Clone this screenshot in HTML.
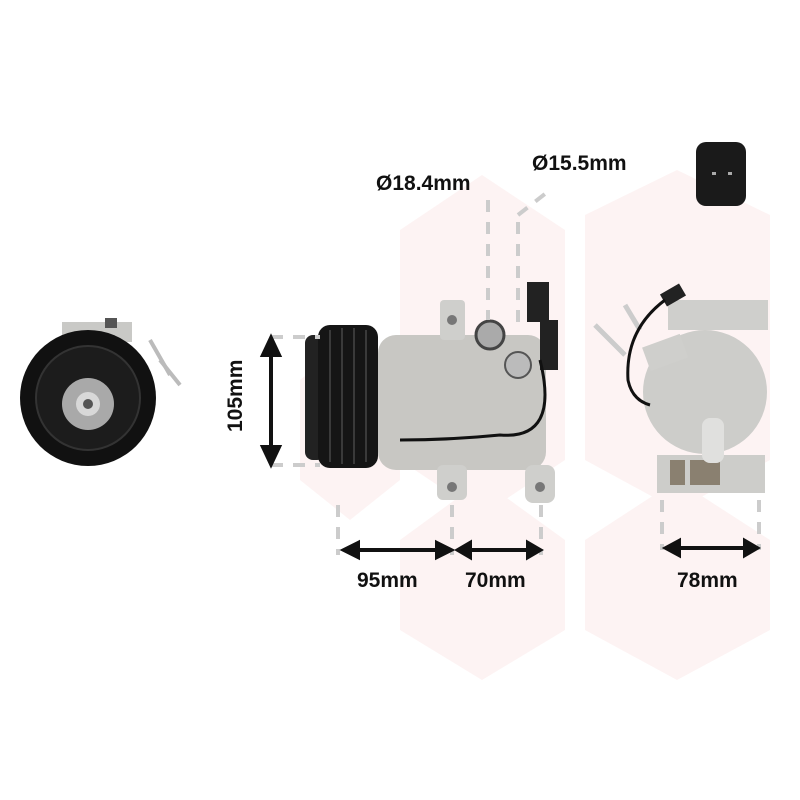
<!DOCTYPE html>
<html><head><style>body{margin:0;background:#fff}svg{display:block}text{font-family:"Liberation Sans",sans-serif;font-size:21px;font-weight:bold;fill:#111}</style></head>
<body>
<svg width="800" height="800" viewBox="0 0 800 800" xmlns="http://www.w3.org/2000/svg">
<g fill="#fdf3f3">
<polygon points="400,230 482,175 565,230 565,460 482,515 400,460"/>
<polygon points="585,215 677,170 770,215 770,460 677,510 585,460"/>
<polygon points="400,540 482,480 565,540 565,630 482,680 400,630"/>
<polygon points="585,540 677,480 770,540 770,630 677,680 585,630"/>
<polygon points="300,380 350,340 400,380 400,480 350,520 300,480"/>
</g>
<rect x="62" y="322" width="70" height="20" fill="#c9c9c6"/>
<rect x="105" y="318" width="12" height="10" fill="#555"/>
<line x1="150" y1="340" x2="170" y2="375" stroke="#bbb" stroke-width="4"/>
<line x1="160" y1="360" x2="180" y2="385" stroke="#bbb" stroke-width="4"/>
<circle cx="88" cy="398" r="68" fill="#111"/>
<circle cx="88" cy="398" r="52" fill="#1c1c1c" stroke="#333" stroke-width="2"/>
<circle cx="88" cy="404" r="26" fill="#a9a9a9"/>
<circle cx="88" cy="404" r="12" fill="#d8d8d8"/>
<circle cx="88" cy="404" r="5" fill="#555"/>
<rect x="378" y="335" width="168" height="135" rx="18" fill="#c8c7c3"/>
<rect x="440" y="300" width="25" height="40" rx="4" fill="#cfcfcc"/>
<circle cx="452" cy="320" r="5" fill="#777"/>
<rect x="437" y="465" width="30" height="35" rx="6" fill="#cfcfcc"/>
<circle cx="452" cy="487" r="5" fill="#777"/>
<rect x="525" y="465" width="30" height="38" rx="8" fill="#cfcfcc"/>
<circle cx="540" cy="487" r="5" fill="#777"/>
<circle cx="490" cy="335" r="14" fill="#aaa" stroke="#444" stroke-width="3"/>
<circle cx="518" cy="365" r="13" fill="#bbb" stroke="#555" stroke-width="2"/>
<rect x="527" y="282" width="22" height="40" fill="#222"/>
<rect x="540" y="320" width="18" height="50" fill="#222"/>
<path d="M540 360 Q560 440 500 435 Q450 440 400 440" fill="none" stroke="#111" stroke-width="3"/>
<rect x="305" y="335" width="20" height="125" rx="8" fill="#222"/>
<rect x="318" y="325" width="60" height="143" rx="12" fill="#151515"/>
<g stroke="#3a3a3a" stroke-width="2"><line x1="330" y1="330" x2="330" y2="462"/><line x1="342" y1="328" x2="342" y2="464"/><line x1="354" y1="328" x2="354" y2="464"/><line x1="366" y1="330" x2="366" y2="462"/></g>
<line x1="595" y1="325" x2="625" y2="355" stroke="#ccc" stroke-width="5"/>
<line x1="625" y1="305" x2="640" y2="330" stroke="#ccc" stroke-width="5"/>
<rect x="668" y="300" width="100" height="30" fill="#cfcfcc"/>
<circle cx="705" cy="392" r="62" fill="#cdcdca"/>
<rect x="645" y="340" width="40" height="25" fill="#cfcfcc" transform="rotate(-20 665 352)"/>
<rect x="657" y="455" width="108" height="38" fill="#cdcdca"/>
<rect x="670" y="460" width="15" height="25" fill="#8a8070"/>
<rect x="690" y="460" width="30" height="25" fill="#8a8070"/>
<rect x="702" y="418" width="22" height="45" rx="8" fill="#e0e0de"/>
<rect x="662" y="288" width="22" height="14" fill="#222" transform="rotate(-30 673 295)"/>
<path d="M665 300 Q625 330 628 380 Q632 400 650 405" fill="none" stroke="#111" stroke-width="3"/>
<rect x="696" y="142" width="50" height="64" rx="10" fill="#1a1a1a"/>
<rect x="712" y="172" width="4" height="3" fill="#aaa"/><rect x="728" y="172" width="4" height="3" fill="#aaa"/>
<g stroke="#ccc" stroke-width="4" stroke-dasharray="12,10" fill="none">
<line x1="271" y1="337" x2="320" y2="337"/><line x1="271" y1="465" x2="320" y2="465"/>
<line x1="338" y1="505" x2="338" y2="555"/><line x1="452" y1="505" x2="452" y2="555"/><line x1="541" y1="505" x2="541" y2="555"/>
<line x1="662" y1="500" x2="662" y2="550"/><line x1="759" y1="500" x2="759" y2="550"/>
<line x1="488" y1="200" x2="488" y2="320"/><line x1="518" y1="222" x2="518" y2="330"/>
<line x1="518" y1="215" x2="550" y2="190"/>
</g>
<g stroke="#111" stroke-width="4" fill="#111">
<line x1="271" y1="345" x2="271" y2="455"/>
<polygon points="263,355 271,338 279,355"/><polygon points="263,447 271,464 279,447"/>
<line x1="350" y1="550" x2="445" y2="550"/><polygon points="358,543 344,550 358,557"/><polygon points="437,543 451,550 437,557"/>
<line x1="463" y1="550" x2="535" y2="550"/><polygon points="470,543 458,550 470,557"/><polygon points="528,543 540,550 528,557"/>
<line x1="672" y1="548" x2="752" y2="548"/><polygon points="679,541 666,548 679,555"/><polygon points="745,541 757,548 745,555"/>
</g>
<text x="357" y="587">95mm</text>
<text x="465" y="587">70mm</text>
<text x="677" y="587">78mm</text>
<text x="376" y="190">Ø18.4mm</text>
<text x="532" y="170">Ø15.5mm</text>
<text transform="translate(242,432) rotate(-90)">105mm</text>
</svg>
</body></html>
